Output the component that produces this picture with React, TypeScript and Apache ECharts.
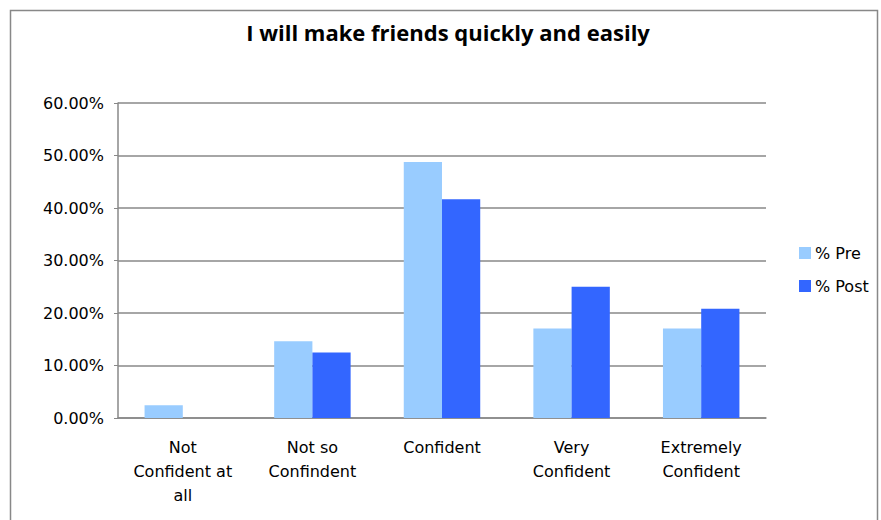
import React, { useEffect, useRef } from "react";
import * as echarts from "echarts";

const categories = ["Not\nConfident at\nall", "Not so\nConfindent", "Confident", "Very\nConfident", "Extremely\nConfident"];
const preValues = [2.44, 14.63, 48.78, 17.07, 17.07];
const postValues = [0, 12.5, 41.67, 25.0, 20.83];
const yTicks = [0, 10, 20, 30, 40, 50, 60];

export default function App() {
  const ref = useRef<HTMLDivElement>(null);
  useEffect(() => {
    const chart = echarts.init(ref.current!, null, { renderer: "svg" });
    const font = "DejaVu Sans";
    chart.setOption({
      animation: false,
      backgroundColor: "#ffffff",
      title: {
        text: "I will make friends quickly and easily",
        left: 443,
        textAlign: "center",
        top: 16,
        textStyle: { fontFamily: "Open Sans", fontWeight: "bold", fontSize: 22, color: "#000" },
      },
      graphic: [
        {
          type: "rect",
          shape: { x: 10.5, y: 10.5, width: 867, height: 530 },
          style: { fill: "none", stroke: "#888", lineWidth: 1.5 },
          silent: true,
        },
      ],
      legend: {
        orient: "vertical",
        left: 794,
        top: 240,
        itemWidth: 12,
        itemHeight: 12,
        itemGap: 17,
        icon: "rect",
        textStyle: { fontFamily: font, fontSize: 16, color: "#000", padding: [0, 0, 0, -1] },
        data: ["% Pre", "% Post"],
      },
      grid: { left: 118, right: 115, top: 103, bottom: 102, containLabel: false },
      xAxis: {
        type: "category",
        data: categories,
        axisLine: { lineStyle: { color: "#888", width: 1.5 } },
        axisTick: { show: false },
        axisLabel: {
          interval: 0,
          fontFamily: font,
          fontSize: 16,
          color: "#000",
          lineHeight: 24,
          margin: 17,
        },
      },
      yAxis: {
        type: "value",
        min: yTicks[0],
        max: yTicks[yTicks.length - 1],
        interval: 10,
        axisLine: { show: true, lineStyle: { color: "#888", width: 1.5 } },
        axisTick: { show: true, length: 4, lineStyle: { color: "#888" } },
        splitLine: { lineStyle: { color: "#888", width: 1.5 } },
        axisLabel: {
          fontFamily: font,
          fontSize: 16,
          color: "#000",
          margin: 14,
          formatter: (v: number) => v.toFixed(2) + "%",
        },
      },
      series: [
        {
          name: "% Pre",
          type: "bar",
          data: preValues,
          itemStyle: { color: "#99CCFF" },
          barGap: "0%",
          barCategoryGap: "41%",
        },
        {
          name: "% Post",
          type: "bar",
          data: postValues,
          itemStyle: { color: "#3366FF" },
          barGap: "0%",
          barCategoryGap: "41%",
        },
      ],
    });
    return () => chart.dispose();
  }, []);
  return (
    <div
      ref={ref}
      style={{ position: "absolute", left: 0, top: 0, width: 881, height: 520 }}
    />
  );
}
